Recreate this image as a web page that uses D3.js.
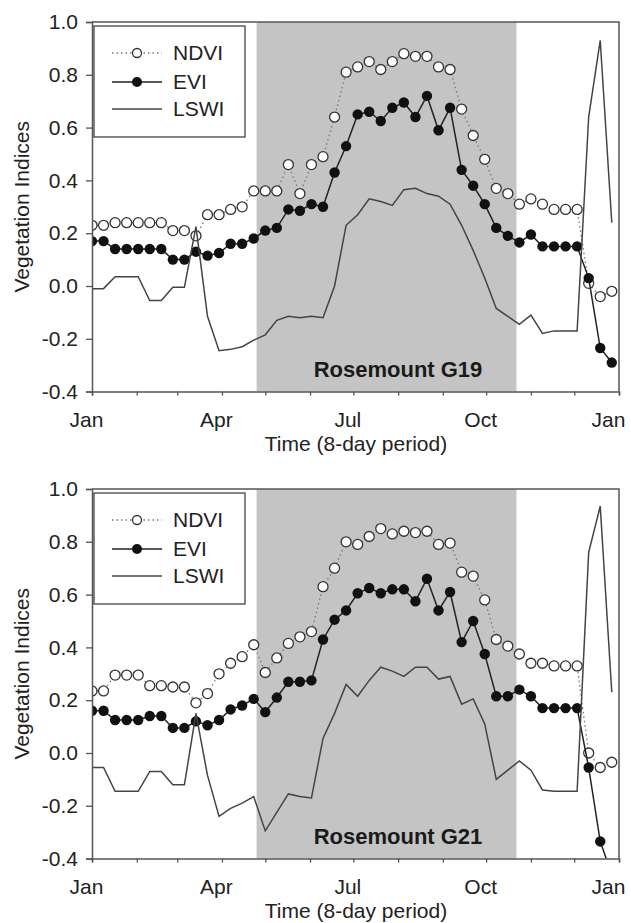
<!DOCTYPE html>
<html>
<head>
<meta charset="utf-8">
<script src="https://d3js.org/d3.v7.min.js"></script>
<style>
  body { margin: 0; background: #fff; }
  svg { display: block; font-family: "Liberation Sans", Arial, sans-serif; }
</style>
</head>
<body>
<div id="chart"></div>
<script>

// 8-day MODIS composites, day-of-year of each period start (0-based)
var periods = d3.range(0, 361, 8);

// Rosemount G19
var ndviG19 = [0.23,0.23,0.24,0.24,0.24,0.24,0.24,0.21,0.21,0.19,
               0.27,0.27,0.29,0.30,0.36,0.36,0.36,0.46,0.35,0.46,
               0.49,0.64,0.81,0.83,0.85,0.82,0.85,0.88,0.87,0.87,
               0.83,0.82,0.67,0.57,0.48,0.37,0.35,0.31,0.33,0.31,
               0.29,0.29,0.29,0.01,-0.04,-0.02];
var eviG19 = [0.17,0.17,0.14,0.14,0.14,0.14,0.14,0.10,0.10,0.13,
              0.115,0.125,0.16,0.16,0.18,0.21,0.22,0.29,0.285,0.31,
              0.30,0.43,0.53,0.65,0.66,0.625,0.675,0.695,0.64,0.72,
              0.59,0.675,0.44,0.38,0.31,0.22,0.19,0.165,0.195,0.15,
              0.15,0.15,0.15,0.03,-0.235,-0.29];
var lswiG19 = [-0.01,-0.01,0.035,0.035,0.035,-0.055,-0.055,-0.005,-0.005,0.225,
               -0.115,-0.245,-0.24,-0.23,-0.205,-0.185,-0.13,-0.115,-0.12,-0.115,
               -0.12,0.0,0.23,0.27,0.33,0.32,0.305,0.365,0.37,0.35,
               0.34,0.31,0.23,0.135,0.03,-0.085,-0.115,-0.145,-0.11,-0.18,
               -0.17,-0.17,-0.17,0.64,0.93,0.24];

// Rosemount G21
var ndviG21 = [0.235,0.235,0.295,0.295,0.295,0.255,0.255,0.25,0.25,0.19,
               0.225,0.30,0.34,0.365,0.41,0.305,0.36,0.415,0.44,0.46,
               0.63,0.70,0.80,0.79,0.82,0.85,0.83,0.84,0.835,0.84,
               0.79,0.795,0.685,0.67,0.58,0.43,0.405,0.375,0.34,0.34,
               0.33,0.33,0.33,0.0,-0.055,-0.035];
var eviG21 = [0.16,0.16,0.125,0.125,0.125,0.14,0.14,0.095,0.095,0.12,
              0.105,0.125,0.165,0.18,0.205,0.155,0.21,0.27,0.27,0.275,
              0.43,0.505,0.54,0.605,0.625,0.605,0.62,0.62,0.575,0.66,
              0.54,0.61,0.42,0.50,0.375,0.215,0.215,0.24,0.215,0.17,
              0.17,0.17,0.17,-0.055,-0.335,-0.46];
var lswiG21 = [-0.055,-0.055,-0.145,-0.145,-0.145,-0.07,-0.07,-0.12,-0.12,0.15,
               -0.085,-0.24,-0.21,-0.19,-0.165,-0.295,-0.225,-0.155,-0.165,-0.17,
               0.055,0.15,0.26,0.215,0.275,0.325,0.31,0.29,0.325,0.325,
               0.28,0.29,0.185,0.205,0.11,-0.10,-0.065,-0.03,-0.065,-0.14,
               -0.145,-0.145,-0.145,0.76,0.935,0.23];

// growing season shading (day of year)
var seasonStart = 114, seasonEnd = 294;

var monthStarts = [0,31,59,90,120,151,181,212,243,273,304,334,365];
var monthLabels = {0: "Jan", 90: "Apr", 181: "Jul", 273: "Oct", 365: "Jan"};
var yTicks = [-0.4,-0.2,0.0,0.2,0.4,0.6,0.8,1.0];
var legendNames = ["NDVI", "EVI", "LSWI"];

var W = 631, H = 923;
var left = 92, plotW = 527, plotH = 369.6;
var axisColor = "#555", textColor = "#222";

var svg = d3.select("#chart").append("svg")
  .attr("width", W).attr("height", H);

var x = d3.scaleLinear().domain([0, 365]).range([0, plotW]);
var y = d3.scaleLinear().domain([-0.4, 1.0]).range([plotH, 0]);

function drawPanel(top, ndvi, evi, lswi, label, id) {
  var g = svg.append("g").attr("transform", "translate(" + left + "," + top + ")");

  g.append("clipPath").attr("id", "clip" + id)
    .append("rect").attr("width", plotW).attr("height", plotH);

  // shaded season
  g.append("rect")
    .attr("x", x(seasonStart)).attr("width", x(seasonEnd) - x(seasonStart))
    .attr("y", 0).attr("height", plotH)
    .attr("fill", "#c4c4c4");

  var plot = g.append("g").attr("clip-path", "url(#clip" + id + ")");

  var line = d3.line().x(function(d, i) { return x(periods[i]); }).y(function(d) { return y(d); });

  // NDVI
  plot.append("path").datum(ndvi).attr("d", line)
    .attr("fill", "none").attr("stroke", "#777").attr("stroke-width", 1.3)
    .attr("stroke-dasharray", "1.5,3");
  plot.selectAll(".ndvi").data(ndvi).enter().append("circle")
    .attr("cx", function(d, i) { return x(periods[i]); })
    .attr("cy", function(d) { return y(d); })
    .attr("r", 5).attr("fill", "#fff").attr("stroke", "#333").attr("stroke-width", 1.3);

  // EVI
  plot.append("path").datum(evi).attr("d", line)
    .attr("fill", "none").attr("stroke", "#222").attr("stroke-width", 1.5);
  plot.selectAll(".evi").data(evi).enter().append("circle")
    .attr("cx", function(d, i) { return x(periods[i]); })
    .attr("cy", function(d) { return y(d); })
    .attr("r", 5.2).attr("fill", "#111");

  // LSWI
  plot.append("path").datum(lswi).attr("d", line)
    .attr("fill", "none").attr("stroke", "#444").attr("stroke-width", 1.5);

  // frame top + right
  g.append("path")
    .attr("d", "M0,0H" + plotW + "V" + plotH)
    .attr("fill", "none").attr("stroke", axisColor).attr("stroke-width", 1.5);

  // axes
  var ya = g.append("g").call(d3.axisLeft(y).tickValues(yTicks)
    .tickFormat(function(d) { return d.toFixed(1); }).tickSize(6).tickPadding(8));
  var xa = g.append("g").attr("transform", "translate(0," + plotH + ")")
    .call(d3.axisBottom(x).tickValues(monthStarts)
      .tickFormat(function(d) { return monthLabels[d] || ""; }).tickSize(4).tickPadding(16));
  [ya, xa].forEach(function(a) {
    a.select(".domain").attr("stroke", axisColor).attr("stroke-width", 1.5);
    a.selectAll(".tick line").attr("stroke", axisColor).attr("stroke-width", 1.3);
    a.selectAll("text").attr("fill", textColor).style("font-size", "21px")
      .style("font-family", "'Liberation Sans', Arial, sans-serif");
  });
  xa.selectAll(".tick text").attr("dx", function(d) { return d === 365 ? -11 : -6; });

  // axis titles
  g.append("text")
    .attr("transform", "translate(" + (22 - left) + "," + (plotH / 2) + ") rotate(-90)")
    .attr("text-anchor", "middle").attr("dy", "0.35em")
    .attr("fill", textColor).style("font-size", "21px")
    .text("Vegetation Indices");
  g.append("text")
    .attr("x", 264).attr("y", plotH + 52)
    .attr("text-anchor", "middle").attr("dy", "0.35em")
    .attr("fill", textColor).style("font-size", "21px")
    .text("Time (8-day period)");

  // site label
  g.append("text")
    .attr("x", 306).attr("y", plotH - 22)
    .attr("text-anchor", "middle").attr("dy", "0.35em")
    .attr("fill", "#1a1a1a").style("font-size", "22px").style("font-weight", "bold")
    .text(label);

  // legend
  var lg = g.append("g").attr("transform", "translate(2,4)");
  lg.append("rect").attr("width", 151).attr("height", 111)
    .attr("fill", "#fff").attr("stroke", "#444").attr("stroke-width", 1.3);
  var rows = [27, 56, 83];
  legendNames.forEach(function(name, k) {
    var r = lg.append("g").attr("transform", "translate(0," + rows[k] + ")");
    var ln = r.append("line").attr("x1", 18).attr("x2", 68).attr("y1", 0).attr("y2", 0);
    if (k === 0) {
      ln.attr("stroke", "#777").attr("stroke-width", 1.3).attr("stroke-dasharray", "1.5,3");
      r.append("circle").attr("cx", 43).attr("r", 4.5)
        .attr("fill", "#fff").attr("stroke", "#333").attr("stroke-width", 1.3);
    } else if (k === 1) {
      ln.attr("stroke", "#222").attr("stroke-width", 1.5);
      r.append("circle").attr("cx", 43).attr("r", 5).attr("fill", "#111");
    } else {
      ln.attr("stroke", "#444").attr("stroke-width", 1.5);
    }
    r.append("text").attr("x", 79).attr("dy", "0.35em")
      .attr("fill", textColor).style("font-size", "21px").text(name);
  });
}

drawPanel(22, ndviG19, eviG19, lswiG19, "Rosemount G19", 1);
drawPanel(489, ndviG21, eviG21, lswiG21, "Rosemount G21", 2);

</script>
</body>
</html>
